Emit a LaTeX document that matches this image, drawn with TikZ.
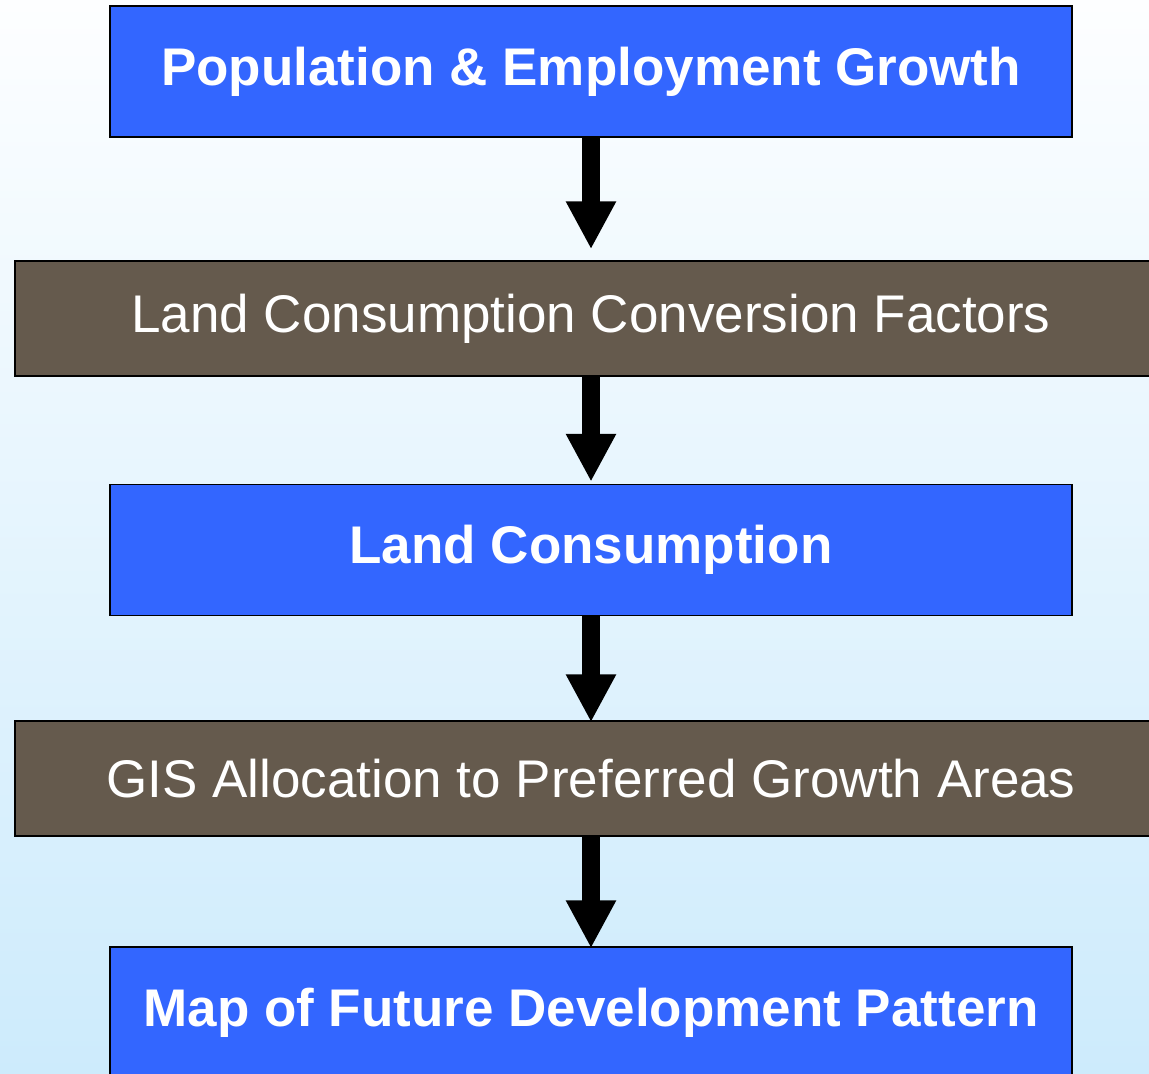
\documentclass[tikz,border=0pt]{standalone}
\usepackage{fontspec}
\setmainfont{Liberation Sans}
\usetikzlibrary{positioning}
\usetikzlibrary{arrows.meta}
\definecolor{stepBlue}{HTML}{3366FF}
\definecolor{stepBrown}{HTML}{655A4D}
\definecolor{skyTop}{HTML}{FDFEFF}
\definecolor{skyBottom}{HTML}{CDEBFC}
\tikzset{
    blueBox/.style={
		draw=black, line width=1.5pt, fill=stepBlue, text=white,
		minimum width=962pt, minimum height=131pt,
		font=\fontsize{53}{62}\selectfont\bfseries
	}
}
\tikzset{
    brownBox/.style={
		draw=black, line width=1.5pt, fill=stepBrown, text=white,
		minimum width=1152pt, minimum height=115pt,
		font=\fontsize{53}{62}\selectfont
	}
}
\tikzset{
    flowArrow/.style={
		line width=17.6pt, -{Triangle[width=47pt,length=48pt]}
	}
}
\begin{document}
\begin{tikzpicture}[x=1pt,y=-1pt]
			\useasboundingbox (0,0) rectangle (1149,1074);
			\clip (0,0) rectangle (1149,1074);
			\shade[top color=skyTop, bottom color=skyBottom] (0,0) rectangle (1149,1074);
			\node[blueBox] (popGrowth) at (591,71.5) {Population \& Employment Growth};
			\node[brownBox] (convFactors) at (591,318.5) {Land Consumption Conversion Factors};
			\node[blueBox] (landCons) at (591,550) {Land Consumption};
			\node[brownBox] (gisAlloc) at (591,778.5) {GIS Allocation to Preferred Growth Areas};
			\node[blueBox] (futureMap) at (591,1012.5) {Map of Future Development Pattern};
			\draw[flowArrow, shorten >=11pt] (popGrowth.south) -- (convFactors.north);
			\draw[flowArrow, shorten >=2pt] (convFactors.south) -- (landCons.north);
			\draw[flowArrow, shorten >=-2pt] (landCons.south) -- (gisAlloc.north);
			\draw[flowArrow, shorten >=-2pt] (gisAlloc.south) -- (futureMap.north);
	\end{tikzpicture}
\end{document}
